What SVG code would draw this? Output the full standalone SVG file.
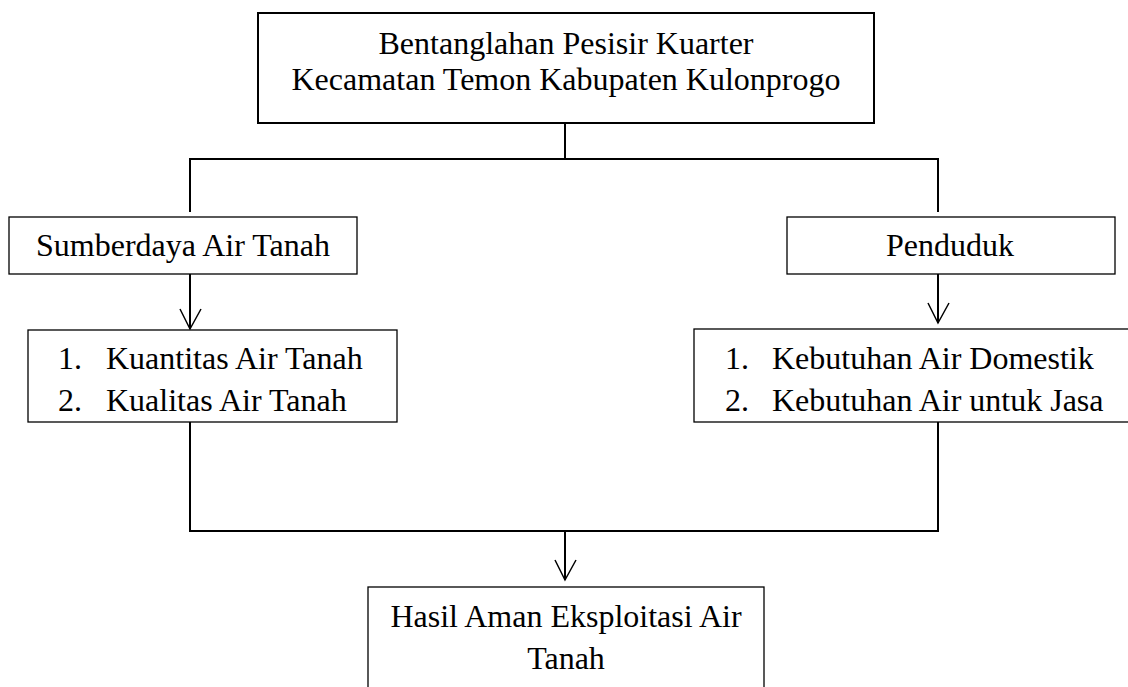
<svg xmlns="http://www.w3.org/2000/svg" width="1128" height="687" viewBox="0 0 1128 687">
<style>
.box{fill:#fff;stroke:#000;stroke-width:1.3}
.thick{stroke-width:2}
.t{font-family:"Liberation Serif","Times New Roman",serif;font-size:32px;fill:#000}
.c{text-anchor:middle}
.ln{fill:none;stroke:#000;stroke-width:2}
.ah{fill:none;stroke:#000;stroke-width:1.5}
</style>
<rect width="1128" height="687" fill="#fff"/>
<g id="connectors">
<path class="ln" d="M565,123 V159 M190,212 V159 H938 V212"/>
<path class="ln" d="M190,274 V329 M938,274 V323"/>
<path class="ah" d="M180,309 L190,329 L201,309 M928,303 L938,323 L949,303"/>
<path class="ln" d="M190,422 V531 H938 V422 M565,531 V580"/>
<path class="ah" d="M555,560 L565,580 L576,560"/>
</g>
<g id="top">
<rect class="box thick" x="258" y="13" width="616" height="110"/>
<text class="t c" x="566" y="54">Bentanglahan Pesisir Kuarter</text>
<text class="t c" x="566" y="90">Kecamatan Temon Kabupaten Kulonprogo</text>
</g>
<g id="sumberdaya">
<rect class="box" x="9" y="217" width="348" height="57"/>
<text class="t c" x="183" y="256">Sumberdaya Air Tanah</text>
</g>
<g id="penduduk">
<rect class="box" x="787" y="217" width="328" height="57"/>
<text class="t c" x="950" y="256">Penduduk</text>
</g>
<g id="kuantitas">
<rect class="box" x="28" y="330" width="369" height="92"/>
<text class="t" x="58" y="369">1.</text>
<text class="t" x="106" y="369">Kuantitas Air Tanah</text>
<text class="t" x="58" y="411">2.</text>
<text class="t" x="106" y="411">Kualitas Air Tanah</text>
</g>
<g id="kebutuhan">
<rect class="box" x="694" y="329" width="440" height="93"/>
<text class="t" x="725" y="369">1.</text>
<text class="t" x="772" y="369">Kebutuhan Air Domestik</text>
<text class="t" x="725" y="411">2.</text>
<text class="t" x="772" y="411">Kebutuhan Air untuk Jasa</text>
</g>
<g id="hasil">
<rect class="box" x="368" y="587" width="396" height="110"/>
<text class="t c" x="566" y="627">Hasil Aman Eksploitasi Air</text>
<text class="t c" x="566" y="669">Tanah</text>
</g>
</svg>
